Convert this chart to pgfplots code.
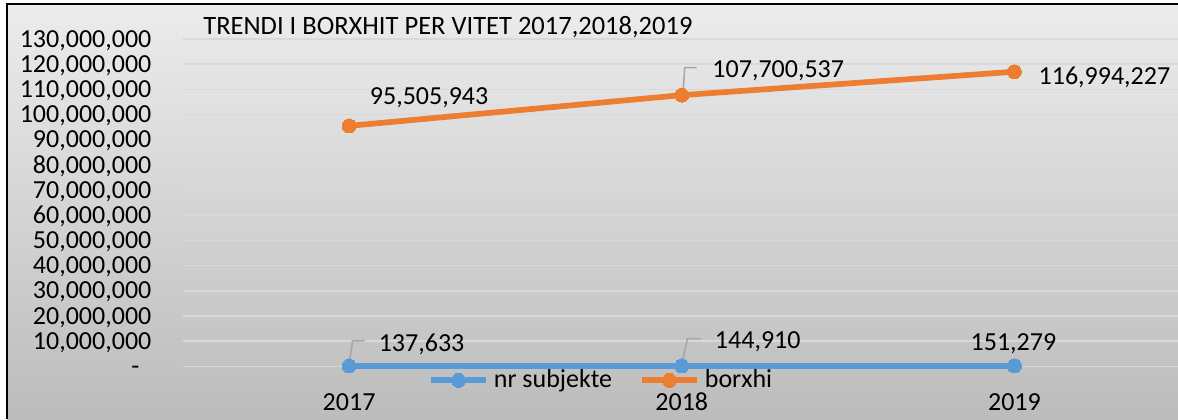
\documentclass[border=0pt]{standalone}
\usepackage{pgfplots}
\pgfplotsset{compat=1.18}
\usepackage{fontspec}
\setmainfont{Carlito}
\definecolor{xlblue}{HTML}{5B9BD5}
\definecolor{xlorange}{HTML}{ED7D31}
\definecolor{gridc}{HTML}{D9D9D9}
\definecolor{bgtop}{RGB}{236,236,236}
\definecolor{bgbot}{RGB}{188,188,188}
\definecolor{leadc}{HTML}{A6A6A6}
\begin{document}
\begin{tikzpicture}[x=0.5pt,y=0.5pt]
\fill[white] (0,0) rectangle (1178,419);
\useasboundingbox (0,0) rectangle (1178,419);
\shade[top color=bgtop,bottom color=bgbot] (7,0) rectangle (1178,415);
\draw[black,line width=1.25pt] (7,0) -- (7,415) -- (1178,415);
\node[anchor=base west,inner sep=0pt,font=\fontsize{13.25pt}{15pt}\selectfont] at (101.5pt,192.35pt) {TRENDI I BORXHIT PER VITET 2017,2018,2019};
\begin{axis}[
  scale only axis, width=499pt, height=163.65pt,
  at={(91.375pt,26.35pt)}, anchor=south west,
  xmin=-0.5, xmax=2.5, ymin=0, ymax=130000000,
  clip=false,
  axis line style={draw=none},
  major tick length=0pt,
  ymajorgrids, grid style={gridc, line width=0.75pt},
  xtick={0,1,2}, xticklabels={2017,2018,2019},
  ytick={0,10000000,20000000,30000000,40000000,50000000,60000000,70000000,80000000,90000000,100000000,110000000,120000000,130000000},
  yticklabels={{-\hspace*{6pt}},{10,000,000},{20,000,000},{30,000,000},{40,000,000},{50,000,000},{60,000,000},{70,000,000},{80,000,000},{90,000,000},{100,000,000},{110,000,000},{120,000,000},{130,000,000}},
  scaled y ticks=false,
  yticklabel style={anchor=east, inner sep=0pt, xshift=-15.5pt, text height=8.2pt, text depth=0pt, font=\fontsize{13pt}{15pt}\selectfont},
  xticklabel style={anchor=base, inner sep=0pt, yshift=-22pt, font=\fontsize{13pt}{15pt}\selectfont},
  legend columns=2,
  legend style={at={(0.2455,-0.0428)}, anchor=west, draw=none, fill=none, inner sep=0pt,
    font=\fontsize{13pt}{15pt}\selectfont,
    nodes={inner xsep=2.5pt, inner ysep=0pt},
    /tikz/every even column/.append style={column sep=11pt}},
  legend image code/.code={\draw[#1,mark repeat=2,mark phase=2] plot coordinates {(0pt,0pt) (13.75pt,0pt) (27.5pt,0pt)};},
]
\addplot[xlblue, line width=2.85pt, mark=*, mark size=3.5pt, mark options={solid, fill=xlblue, draw=xlblue, line width=0pt}]
  coordinates {(0,137633) (1,144910) (2,151279)};
\addlegendentry{nr subjekte}
\addplot[xlorange, line width=2.85pt, mark=*, mark size=3.5pt, mark options={solid, fill=xlorange, draw=xlorange, line width=0pt}]
  coordinates {(0,95505943) (1,107700537) (2,116994227)};
\addlegendentry{borxhi}
% leader lines
\draw[leadc, line width=0.75pt] (axis cs:0,137633) ++(0pt,0.5pt) -- ++(1.75pt,12pt) -- ++(6pt,0pt);
\draw[leadc, line width=0.75pt] (axis cs:1,144910) ++(0.3pt,2pt) -- ++(2.5pt,11.7pt) -- ++(6.7pt,0pt);
\draw[leadc, line width=0.75pt] (axis cs:1,107700537) ++(0.4pt,-2pt) -- ++(1.1pt,15.7pt) -- ++(5.9pt,0pt);
% data labels
\tikzset{dl/.style={anchor=center, inner sep=0pt, text height=8.2pt, text depth=0pt, font=\fontsize{13pt}{15pt}\selectfont}}
\node[dl, xshift=36.25pt, yshift=11.5pt] at (axis cs:0,137633) {137,633};
\node[dl, xshift=38pt, yshift=13pt] at (axis cs:1,144910) {144,910};
\node[dl, xshift=-0.5pt, yshift=12pt] at (axis cs:2,151279) {151,279};
\node[dl, xshift=40pt, yshift=15pt] at (axis cs:0,95505943) {95,505,943};
\node[dl, xshift=48.25pt, yshift=12.75pt] at (axis cs:1,107700537) {107,700,537};
\node[dl, xshift=45pt, yshift=-2.5pt] at (axis cs:2,116994227) {116,994,227};
\end{axis}
\end{tikzpicture}
\end{document}
